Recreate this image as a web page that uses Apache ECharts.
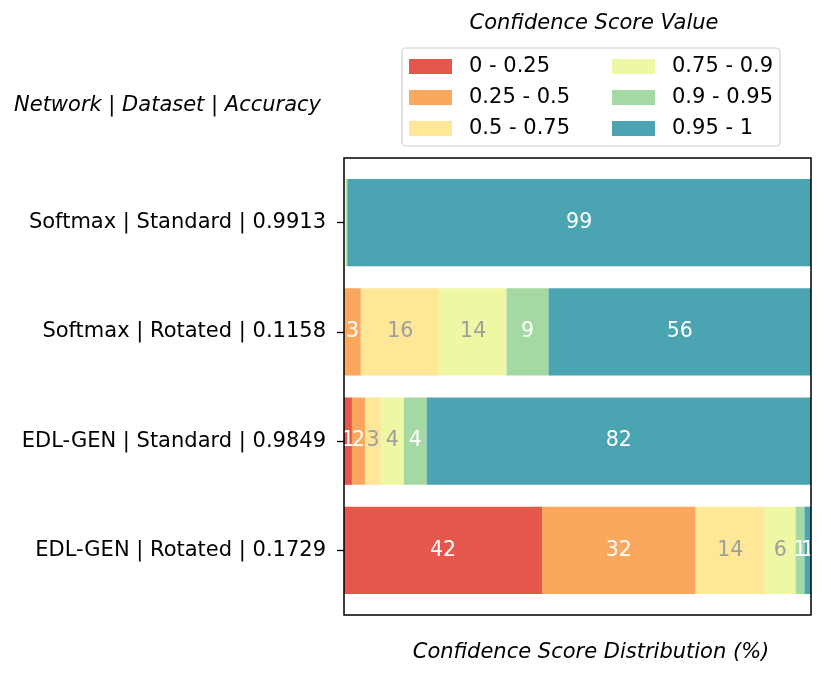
<!DOCTYPE html>
<html>
<head>
<meta charset="utf-8">
<script src="https://cdn.jsdelivr.net/npm/echarts@6/dist/echarts.min.js"></script>
<style>
  html, body { margin: 0; padding: 0; background: #fff; }
  #chart { width: 831px; height: 680px; }
</style>
</head>
<body>
<div id="chart"></div>
<script>
    // rows, top to bottom
    var categories = ['Softmax | Standard | 0.9913', 'Softmax | Rotated | 0.1158',
        'EDL-GEN | Standard | 0.9849', 'EDL-GEN | Rotated | 0.1729'];
    var binNames = ['0 - 0.25', '0.25 - 0.5', '0.5 - 0.75', '0.75 - 0.9', '0.9 - 0.95', '0.95 - 1'];
    // percent of samples per confidence bin, one array per bin
    var bin0 = [0, 0, 1.7, 42.4];
    var bin1 = [0, 3.6, 2.8, 32.9];
    var bin2 = [0.1, 16.9, 3.4, 14.8];
    var bin3 = [0.4, 14.3, 4.9, 6.6];
    var bin4 = [0.2, 9.0, 4.9, 1.9];
    var bin5 = [99.3, 56.2, 82.3, 1.4];
    var binValues = [bin0, bin1, bin2, bin3, bin4, bin5];

    var colors = ['#e5574b', '#fca75e', '#fee797', '#eef7a3', '#a4d9a3', '#4ba4b2'];
    var labelColors = ['#fff', '#fff', '#9e9e9e', '#9e9e9e', '#fff', '#fff'];
    var font = 'DejaVu Sans';
    var fs = 21;

    var chart = echarts.init(document.getElementById('chart'));

    var series = binNames.map(function (name, i) {
        return {
            name: name,
            type: 'bar',
            stack: 'total',
            barWidth: '80%',
            data: binValues[i],
            itemStyle: {color: colors[i]},
            label: {
                show: true,
                position: 'inside',
                color: labelColors[i],
                fontFamily: font,
                fontSize: 20.5,
                formatter: function (p) {
                    var v = Math.floor(p.value);
                    return v > 0 ? String(v) : '';
                }
            }
        };
    });

    var legendBase = {
        orient: 'vertical',
        icon: 'rect',
        itemWidth: 43,
        itemHeight: 15,
        itemGap: 10,
        selectedMode: false,
        textStyle: {fontFamily: font, fontSize: fs, color: '#000', lineHeight: fs, padding: [0, 0, 0, 12]}
    };

    chart.setOption({
        animation: false,
        legend: [
            Object.assign({}, legendBase, {left: 404, top: 51, data: binNames.slice(0, 3)}),
            Object.assign({}, legendBase, {left: 607, top: 51, data: binNames.slice(3)})
        ],
        grid: {left: 344, right: 20, top: 168, bottom: 75},
        xAxis: {
            type: 'value',
            min: 0,
            max: 100,
            axisLine: {show: false},
            axisTick: {show: false},
            axisLabel: {show: false},
            splitLine: {show: false}
        },
        yAxis: {
            type: 'category',
            inverse: true,
            data: categories,
            axisLine: {show: false},
            axisTick: {show: true, alignWithLabel: true, length: 7, lineStyle: {color: '#000', width: 1.3}},
            axisLabel: {fontFamily: font, fontSize: fs, color: '#000', margin: 18}
        },
        graphic: [
            {
                type: 'rect',
                z: 100,
                shape: {x: 344, y: 158, width: 467, height: 457},
                style: {fill: 'none', stroke: '#000', lineWidth: 1.5}
            },
            {
                type: 'rect',
                z: 0,
                shape: {x: 402, y: 48, width: 378, height: 98, r: 4},
                style: {fill: '#fff', stroke: '#d0d0d0', lineWidth: 1.2}
            },
            {
                type: 'text',
                x: 594, y: 24,
                style: {text: 'Confidence Score Value', font: 'italic 21px DejaVu Sans', fill: '#000',
                    align: 'center', verticalAlign: 'middle'}
            },
            {
                type: 'text',
                x: 14, y: 106,
                style: {text: 'Network | Dataset | Accuracy', font: 'italic 21px DejaVu Sans', fill: '#000',
                    align: 'left', verticalAlign: 'middle'}
            },
            {
                type: 'text',
                x: 591, y: 653,
                style: {text: 'Confidence Score Distribution (%)', font: 'italic 21px DejaVu Sans', fill: '#000',
                    align: 'center', verticalAlign: 'middle'}
            }
        ],
        series: series
    });

    window.onresize = function () {
        chart && chart.resize();
    };
</script>
</body>
</html>
